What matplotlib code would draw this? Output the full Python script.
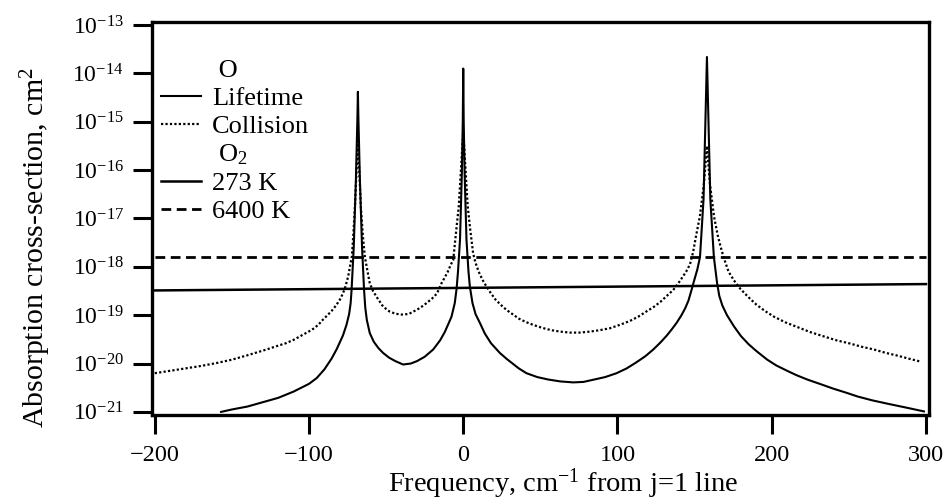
import matplotlib
matplotlib.use("Agg")
import numpy as np
import matplotlib.pyplot as plt
from matplotlib.lines import Line2D
from matplotlib.ticker import NullLocator, FixedLocator

plt.rcParams["font.family"] = ["Liberation Serif", "DejaVu Serif"]
plt.rcParams["mathtext.fontset"] = "custom"
plt.rcParams["mathtext.rm"] = "Liberation Serif"
plt.rcParams["mathtext.it"] = "Liberation Serif:italic"
plt.rcParams["mathtext.bf"] = "Liberation Serif:bold"

# values, y given as log10(cross-section / cm^2)

# O atom, lifetime-broadened profile
life_x = [-157, -150, -140, -130, -120, -110, -100, -95, -90, -85.4, -82, -78, -75.7,
          -74, -73, -72.4, -71.0, -69.6, -68.6, -68.3, -68.0, -67.0, -65.6, -64.3,
          -63.5, -62.5, -60.6, -58, -55, -52, -48, -44, -39, -34, -30, -25, -19.5,
          -15, -12, -9.5, -7.6, -5.5, -4.3,
          -3.4, -2.1, -0.9, -0.3, 0.0, 0.3, 0.9, 2.1, 3.4,
          4.3, 6, 8, 10.8, 14, 18, 23.7, 28, 32, 36, 41, 48, 55, 63, 71.3, 78, 85, 92,
          99.4, 106, 112, 118, 123.2, 128, 132, 135.5, 138.3, 141.5, 144, 146, 148, 150,
          151.8, 153.5, 155.8, 157.3, 158.0, 158.7, 160.2, 162.5,
          164.6, 166, 168, 171, 175.5, 180, 185, 190, 197.1, 203, 210, 216, 223, 232,
          240, 248, 255.5, 265, 275, 287, 298.7]
life_log = [-21.0, -20.95, -20.89, -20.8, -20.71, -20.58, -20.42, -20.3, -20.12, -19.9,
            -19.7, -19.42, -19.2,
            -18.98, -18.75, -18.48, -17.6, -16.2, -14.9, -14.38, -14.9, -16.2, -17.6, -18.48,
            -18.85, -19.1, -19.37, -19.55, -19.68, -19.78, -19.88, -19.95, -20.02, -20.0,
            -19.95, -19.86, -19.71,
            -19.52, -19.35, -19.17, -19.03, -18.75, -18.45,
            -18.1, -17.44, -16.06, -15.0, -13.9, -15.0, -16.06, -17.44, -18.1,
            -18.41, -18.75, -18.98, -19.16, -19.38, -19.58, -19.78, -19.9, -20.0, -20.1,
            -20.2, -20.28, -20.33, -20.37, -20.39, -20.38, -20.33, -20.28,
            -20.2, -20.1, -19.98, -19.85, -19.71, -19.56, -19.42, -19.28, -19.16, -19.0,
            -18.85, -18.7, -18.48, -18.25,
            -18.05, -17.8, -16.6, -14.6, -13.66, -14.6, -16.6, -17.8,
            -18.34, -18.6, -18.8, -19.0, -19.23, -19.43, -19.6, -19.74, -19.92, -20.04,
            -20.15, -20.24, -20.33, -20.43,
            -20.52, -20.6, -20.68, -20.76, -20.83, -20.91, -20.99]

# O atom, collision-broadened profile
coll_x = [-200, -190, -180, -170, -160, -150, -140, -127.6, -120, -115, -110, -106, -102,
          -98, -94, -90.9, -88, -85, -82.5, -80, -78, -76.5, -74.6, -73.2, -72.2,
          -71.3, -70.3, -69.3, -68.3, -67.3, -66.3, -65.1,
          -63.8, -62.3, -60.6, -58.5, -56, -52, -48, -44, -39, -35, -32, -28, -23.8, -20,
          -17, -14.1, -12, -10, -8, -6.5,
          -4.3, -2.9, -1.5, 0.0, 1.5, 2.9, 4.3,
          6.4, 8, 10, 12.5, 15.1, 18, 21, 24.5, 28, 32, 36, 40.5, 45.3, 51, 57, 63, 69.1,
          75.5, 82, 88.5, 95.1, 101.5, 108, 113.5, 118.9, 123.5, 128, 132, 136.1, 139, 142,
          144.5, 147, 149, 151, 153.4, 156, 158, 160, 162.6, 165, 167, 168.8,
          172, 175.5, 179.8, 185, 190, 195.5, 201.4, 209, 217, 225, 233.9, 242, 250, 258,
          266.3, 274, 282, 289, 296.6]
coll_log = [-20.2, -20.15, -20.1, -20.05, -19.99, -19.92, -19.83, -19.71, -19.63, -19.58,
            -19.51, -19.44, -19.37, -19.3, -19.2, -19.09, -19.0, -18.9, -18.8, -18.68,
            -18.55, -18.42, -18.2, -17.95, -17.79,
            -17.35, -16.8, -16.1, -15.4, -16.1, -16.8, -17.35,
            -17.79, -18.05, -18.34, -18.5, -18.63, -18.82, -18.92, -18.97, -18.99, -18.97,
            -18.92, -18.85, -18.75, -18.65, -18.55, -18.34, -18.22, -18.1, -17.95, -17.86,
            -17.17, -16.75, -16.0, -15.2, -16.0, -16.75, -17.17,
            -17.72, -17.92, -18.1, -18.27, -18.41, -18.55, -18.68, -18.79, -18.89, -18.98,
            -19.07, -19.14, -19.2, -19.26, -19.31, -19.34, -19.36,
            -19.36, -19.34, -19.31, -19.27, -19.2, -19.12, -19.03, -18.92, -18.83, -18.72,
            -18.6, -18.48, -18.36, -18.22,
            -18.1, -17.95, -17.7, -17.35, -16.96, -16.3, -15.5, -16.3, -16.96, -17.35,
            -17.6, -17.8,
            -18.1, -18.28, -18.46, -18.63, -18.78, -18.91, -19.03, -19.15, -19.25, -19.35,
            -19.44, -19.52, -19.58, -19.65, -19.71, -19.78, -19.84, -19.9, -19.96]

# O2 continuum (cm^2)
o2_x = [-200, 300]
o2_273 = [3.25e-19, 4.4e-19]
o2_6400 = [1.6e-18, 1.6e-18]

xticks = [-200, -100, 0, 100, 200, 300]
yticks = [1e-21, 1e-20, 1e-19, 1e-18, 1e-17, 1e-16, 1e-15, 1e-14, 1e-13]

life_y = 10.0 ** np.array(life_log)
coll_y = 10.0 ** np.array(coll_log)

fig = plt.figure(figsize=(9.48, 5.04), dpi=100)
ax = fig.add_axes([0.160, 0.177, 0.820, 0.779])

ax.plot(o2_x, o2_6400, color="black", lw=2.0, ls=(0, (3.5, 2.0)))
ax.plot(o2_x, o2_273, color="black", lw=1.8)
ax.plot(coll_x, coll_y, color="black", lw=1.6, ls=(0, (1, 1)))
ax.plot(life_x, life_y, color="black", lw=1.5)

ax.set_yscale("log")
ax.set_xlim(-202, 302)
ax.set_ylim(10 ** -21.06, 10 ** -12.94)
ax.xaxis.set_major_locator(FixedLocator(xticks))
ax.yaxis.set_major_locator(FixedLocator(yticks))
ax.yaxis.set_minor_locator(NullLocator())
ax.tick_params(axis="both", direction="out", length=14, width=2.2, pad=6,
               top=False, right=False)
ax.tick_params(axis="y", labelsize=17)
ax.tick_params(axis="x", labelsize=17.5, pad=8)
for sp in ax.spines.values():
    sp.set_linewidth(2.4)

ax.set_xlabel("Frequency, cm$^{-1}$ from j=1 line", fontsize=20.5, x=0.529, labelpad=0)
ax.set_ylabel("Absorption cross-section, cm$^2$", fontsize=21.5, y=0.425, labelpad=14)

blank = Line2D([], [], color="none")
handles = [blank,
           Line2D([], [], color="black", lw=1.5),
           Line2D([], [], color="black", lw=1.6, ls=(0, (1, 1))),
           blank,
           Line2D([], [], color="black", lw=1.8),
           Line2D([], [], color="black", lw=2.0, ls=(0, (3.5, 2.0)))]
labels = [" O", "Lifetime", "Collision", " O$_2$", "273 K", "6400 K"]
ax.legend(handles, labels, loc="upper left", bbox_to_anchor=(0.0, 0.93),
          frameon=False, fontsize=19, handlelength=1.52, handletextpad=0.42,
          labelspacing=0.17, borderaxespad=0.0, borderpad=0.34)

fig.savefig("out.png", dpi=100)
